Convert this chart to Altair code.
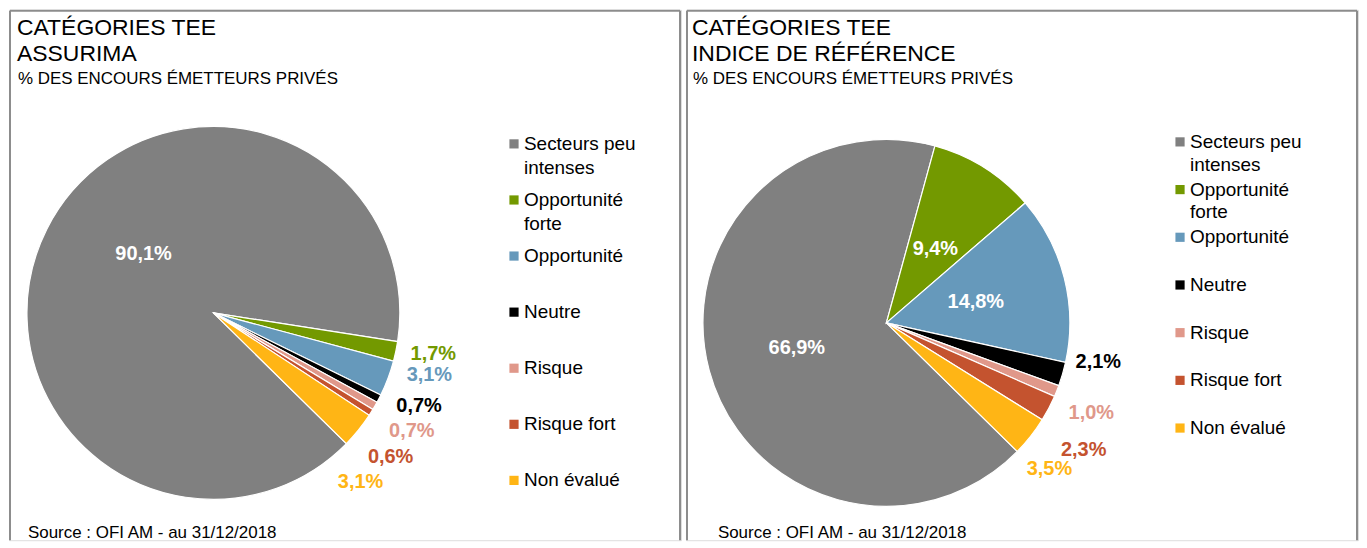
import math
import altair as alt
import pandas as pd

# ---------------- data ----------------
categories = ["Secteurs peu intenses", "Opportunité forte", "Opportunité",
              "Neutre", "Risque", "Risque fort", "Non évalué"]
legend_labels = ["Secteurs peu\nintenses", "Opportunité\nforte", "Opportunité",
                 "Neutre", "Risque", "Risque fort", "Non évalué"]
assurima = [90.1, 1.7, 3.1, 0.7, 0.7, 0.6, 3.1]
indice = [66.9, 9.4, 14.8, 2.1, 1.0, 2.3, 3.5]
title_left = ["CATÉGORIES TEE", "ASSURIMA"]
title_right = ["CATÉGORIES TEE", "INDICE DE RÉFÉRENCE"]
subtitle = "% DES ENCOURS ÉMETTEURS PRIVÉS"
source = "Source : OFI AM  - au 31/12/2018"

# ---------------- style ----------------
colors = ["#808080", "#739900", "#6699BB", "#000000", "#E0988A", "#C4532F", "#FFB515"]
FONT = "Liberation Sans"
W, H = 674, 532
START = math.radians(134.5)
BORDER = "#8C8C8C"


def fmt(v):
    return f"{v:.1f}".replace(".", ",") + "%"


def frame(values):
    return pd.DataFrame({
        "cat": categories,
        "legend": legend_labels,
        "value": values,
        "order": list(range(len(categories))),
        "label": [fmt(v) for v in values],
    })


def panel(values, title_lines, cx, cy, R, label_style, leg_x, leg_y0, leg_y1,
          line_h, title_x, source_x):
    df = frame(values)
    base = alt.Chart(df)
    theta_scale = alt.Scale(domain=[0, 100], range=[START, START + 2 * math.pi])
    color_scale = alt.Scale(domain=categories, range=colors)

    arcs = base.mark_arc(radius=R, stroke="white", strokeWidth=1.2).encode(
        theta=alt.Theta("value:Q", stack=True, scale=theta_scale),
        color=alt.Color("cat:N", scale=color_scale, legend=None),
        order=alt.Order("order:Q"),
        x=alt.value(cx),
        y=alt.value(cy),
    )
    layers = [arcs]

    for cat, (inside, dx, dy) in label_style.items():
        col = "white" if inside else colors[categories.index(cat)]
        r = R * 0.5 if inside else R * 1.2
        t = (
            base.transform_window(
                cum="sum(value)", sort=[alt.SortField("order")], frame=[None, 0]
            )
            .transform_calculate(mid="datum.cum - datum.value / 2")
            .transform_filter(alt.datum.cat == cat)
            .mark_text(font=FONT, fontSize=20, fontWeight="bold", color=col,
                       dx=dx, dy=dy, align="center", baseline="middle", radius=r)
            .encode(
                theta=alt.Theta("mid:Q", scale=theta_scale, stack=False),
                x=alt.value(cx),
                y=alt.value(cy),
                text="label:N",
            )
        )
        layers.append(t)

    yscale = alt.Scale(type="point", domain=categories, range=[leg_y0, leg_y1], padding=0)
    squares = base.mark_square(size=85, opacity=1).encode(
        x=alt.value(leg_x),
        y=alt.Y("cat:N", scale=yscale, axis=None),
        color=alt.Color("cat:N", scale=color_scale, legend=None),
    )
    leg_text = base.mark_text(font=FONT, fontSize=19, align="left", baseline="top",
                              dy=-9, lineBreak="\n", lineHeight=line_h,
                              color="black").encode(
        x=alt.value(leg_x + 10),
        y=alt.Y("cat:N", scale=yscale, axis=None),
        text="legend:N",
    )
    layers += [squares, leg_text]

    tdf = pd.DataFrame({"t": [title_lines[0], title_lines[1], subtitle, source]})
    tb = alt.Chart(tdf)
    t1 = tb.transform_filter(alt.datum.t == title_lines[0]).mark_text(
        font=FONT, fontSize=23, align="left", baseline="alphabetic", color="black"
    ).encode(x=alt.value(title_x), y=alt.value(25), text="t:N")
    t2 = tb.transform_filter(alt.datum.t == title_lines[1]).mark_text(
        font=FONT, fontSize=23, align="left", baseline="alphabetic", color="black"
    ).encode(x=alt.value(title_x), y=alt.value(51), text="t:N")
    t3 = tb.transform_filter(alt.datum.t == subtitle).mark_text(
        font=FONT, fontSize=17, align="left", baseline="alphabetic", color="black"
    ).encode(x=alt.value(title_x + 1), y=alt.value(74), text="t:N")
    t4 = tb.transform_filter(alt.datum.t == source).mark_text(
        font=FONT, fontSize=17, align="left", baseline="alphabetic", color="black"
    ).encode(x=alt.value(source_x), y=alt.value(530), text="t:N")
    layers += [t1, t2, t3, t4]

    bdf = pd.DataFrame({"k": [0]})
    bb = alt.Chart(bdf)
    left_b = bb.mark_rule(color=BORDER, strokeWidth=2).encode(
        x=alt.value(1), y=alt.value(1), y2=alt.value(H))
    right_b = bb.mark_rule(color=BORDER, strokeWidth=2).encode(
        x=alt.value(W - 1), y=alt.value(1), y2=alt.value(H))
    top_b = bb.mark_rule(color=BORDER, strokeWidth=2).encode(
        x=alt.value(1), x2=alt.value(W - 1), y=alt.value(1))
    layers += [left_b, right_b, top_b]

    return alt.layer(*layers).properties(width=W, height=H)


left_labels = {
    "Secteurs peu intenses": (True, 13.5, -17),
    "Opportunité forte": (False, 1, -5.5),
    "Opportunité": (False, 6.5, -16),
    "Neutre": (False, 7, -10),
    "Risque": (False, 4.5, 6.5),
    "Risque fort": (False, -12, 24.5),
    "Non évalué": (False, -27, 28.5),
}
right_labels = {
    "Secteurs peu intenses": (True, -1, 1),
    "Opportunité forte": (True, 0, 4),
    "Opportunité": (True, 0.5, 1.5),
    "Neutre": (False, 0.5, -22),
    "Risque": (False, 0.5, 8.5),
    "Risque fort": (False, 2.5, 24.5),
    "Non évalué": (False, -10, 10.5),
}

left = panel(assurima, title_left, 205, 304, 187, left_labels,
             506.5, 134.5, 472, 24, 8, 19)
right = panel(indice, title_right, 201, 314, 184, right_labels,
              495.5, 132.5, 419.5, 23, 6, 32)

chart = alt.hconcat(left, right, spacing=3).properties(
    padding={"left": 0, "top": 0, "right": 0, "bottom": 0}
).configure_view(stroke="transparent").configure(background="white")

chart.save("out.html", embed_options={"renderer": "svg", "actions": False})
